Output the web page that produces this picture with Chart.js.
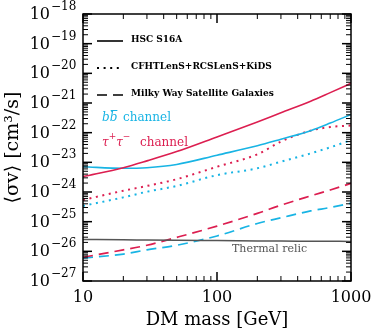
<!DOCTYPE html>
<html>
<head>
<meta charset="utf-8">
<script src="https://cdn.jsdelivr.net/npm/chart.js@4"></script>
<style>
  html, body { margin: 0; padding: 0; background: #fff; }
  canvas { display: block; }
</style>
</head>
<body>
<canvas id="grafico-sigmav" width="374" height="333"></canvas>
<script>
// Masas de materia oscura (GeV)
const masas = [10, 20, 30, 50, 100, 200, 300, 500, 700, 1000];

// HSC S16A (linea continua)
const tauHSC = [3.3e-24, 6.6e-24, 1.12e-23, 2.3e-23, 7.2e-23, 2.3e-22, 4.7e-22, 1.15e-21, 2.24e-21, 4.6e-21];
const bbHSC = [7.1e-24, 6.3e-24, 6.6e-24, 8.5e-24, 1.74e-23, 3.6e-23, 6.0e-23, 1.17e-22, 2.1e-22, 4.1e-22];

// CFHTLenS+RCSLenS+KiDS (punteada)
const tauCFHT = [5.4e-25, 1.1e-24, 1.6e-24, 2.7e-24, 7.1e-24, 1.86e-23, 5.0e-23, 1.17e-22, 1.55e-22, 1.74e-22];
const bbCFHT = [3.4e-25, 6.6e-25, 1.02e-24, 1.6e-24, 3.7e-24, 6.3e-24, 1.05e-23, 2.0e-23, 3.2e-23, 5.6e-23];

// Milky Way Satellite Galaxies (rayada)
const tauMW = [6.3e-27, 1.12e-26, 1.6e-26, 2.95e-26, 7.1e-26, 1.9e-25, 3.6e-25, 7.4e-25, 1.17e-24, 1.95e-24];
const bbMW = [5.9e-27, 8.1e-27, 1.12e-26, 1.6e-26, 3.3e-26, 8.7e-26, 1.35e-25, 2.3e-25, 3.0e-25, 4.2e-25];

// Reliquia termica
const termica = [2.5e-26, 2.45e-26, 2.4e-26, 2.35e-26, 2.3e-26, 2.25e-26, 2.22e-26, 2.2e-26, 2.18e-26, 2.16e-26];

// Etiquetas de los ejes
const exponentesY = [-27, -26, -25, -24, -23, -22, -21, -20, -19, -18];
const etiquetasX = [10, 100, 1000];
const leyenda = ['HSC S16A', 'CFHTLenS+RCSLenS+KiDS', 'Milky Way Satellite Galaxies'];

const ROJO = '#dc1e50';
const CIAN = '#18b4e4';
const SERIF = '"DejaVu Serif", serif';

function serie(datos, color, guion, ancho) {
  return {
    data: masas.map((m, i) => ({ x: m, y: datos[i] })),
    borderColor: color,
    borderDash: guion,
    borderWidth: ancho,
    borderCapStyle: 'butt',
    pointRadius: 0,
    fill: false,
    cubicInterpolationMode: 'monotone'
  };
}

function linea(ctx, x1, y1, x2, y2) {
  ctx.beginPath();
  ctx.moveTo(x1, y1);
  ctx.lineTo(x2, y2);
  ctx.stroke();
}

// Marco, marcas, etiquetas y textos sobre el grafico
const decorado = {
  id: 'decorado',
  afterDraw(chart) {
    const { ctx, chartArea: a, scales: { x, y } } = chart;
    ctx.save();
    ctx.strokeStyle = '#000';

    // Marcas eje Y (izquierda y derecha)
    for (let e = -27; e <= -18; e++) {
      for (let k = 1; k <= 9; k++) {
        if (e === -18 && k > 1) break;
        const py = y.getPixelForValue(k * Math.pow(10, e));
        const largo = k === 1 ? 9 : 5;
        ctx.lineWidth = k === 1 ? 1.5 : 1;
        linea(ctx, a.left, py, a.left + largo, py);
        linea(ctx, a.right - largo, py, a.right, py);
      }
    }
    // Marcas eje X (abajo y arriba)
    for (let e = 1; e <= 3; e++) {
      for (let k = 1; k <= 9; k++) {
        if (e === 3 && k > 1) break;
        const px = x.getPixelForValue(k * Math.pow(10, e));
        const largo = k === 1 ? 9 : 5;
        ctx.lineWidth = k === 1 ? 1.5 : 1;
        linea(ctx, px, a.bottom, px, a.bottom - largo);
        linea(ctx, px, a.top, px, a.top + largo);
      }
    }
    ctx.lineWidth = 1.5;
    ctx.strokeRect(a.left, a.top, a.right - a.left, a.bottom - a.top);

    // Etiquetas eje Y: 10^n
    ctx.fillStyle = '#000';
    ctx.textBaseline = 'middle';
    exponentesY.forEach(e => {
      const py = y.getPixelForValue(Math.pow(10, e));
      ctx.font = '16px ' + SERIF;
      ctx.textAlign = 'right';
      ctx.fillText('10', 50, py + 1);
      ctx.font = '12px ' + SERIF;
      ctx.textAlign = 'left';
      ctx.fillText('\u2212' + Math.abs(e), 51, py - 7);
    });
    // Etiquetas eje X
    ctx.font = '16px ' + SERIF;
    ctx.textAlign = 'center';
    etiquetasX.forEach(v => {
      ctx.fillText(String(v), x.getPixelForValue(v), 298);
    });

    // Leyenda (estilos de linea)
    ctx.textAlign = 'left';
    ctx.textBaseline = 'alphabetic';
    ctx.font = 'bold 9px ' + SERIF;
    const guiones = [[], [2, 4.6], [10, 6]];
    const filas = [41, 68, 95];
    leyenda.forEach((txt, i) => {
      ctx.setLineDash(guiones[i]);
      ctx.lineWidth = i === 1 ? 2 : 1.6;
      linea(ctx, 97, filas[i], 123, filas[i]);
      ctx.setLineDash([]);
      ctx.fillText(txt, 131, filas[i] + 1);
    });

    // Canal bb
    ctx.fillStyle = CIAN;
    ctx.strokeStyle = CIAN;
    ctx.font = 'italic 12px ' + SERIF;
    let px = 102;
    ctx.fillText('b', px, 121);
    px += ctx.measureText('b').width;
    ctx.fillText('b', px, 121);
    const wb = ctx.measureText('b').width;
    ctx.lineWidth = 1;
    linea(ctx, px + 1, 110.5, px + wb, 110.5);
    ctx.font = '12px ' + SERIF;
    ctx.fillText('channel', 123, 121);

    // Canal tau tau
    ctx.fillStyle = ROJO;
    ctx.font = 'italic 12px ' + SERIF;
    px = 102;
    ctx.fillText('\u03c4', px, 146);
    px += ctx.measureText('\u03c4').width;
    ctx.font = '9px ' + SERIF;
    ctx.fillText('+', px, 139);
    px += ctx.measureText('+').width;
    ctx.font = 'italic 12px ' + SERIF;
    ctx.fillText('\u03c4', px, 146);
    px += ctx.measureText('\u03c4').width;
    ctx.font = '9px ' + SERIF;
    ctx.fillText('\u2212', px, 139);
    ctx.font = '12px ' + SERIF;
    ctx.fillText('channel', 140, 146);

    // Reliquia termica
    ctx.fillStyle = '#555';
    ctx.font = '11px ' + SERIF;
    ctx.fillText('Thermal relic', 232, 252);
    ctx.restore();
  }
};

new Chart(document.getElementById('grafico-sigmav'), {
  type: 'line',
  data: {
    datasets: [
      serie(termica, '#555', [], 1.5),
      serie(tauHSC, ROJO, [], 1.6),
      serie(bbHSC, CIAN, [], 1.6),
      serie(tauCFHT, ROJO, [2, 4.6], 2),
      serie(bbCFHT, CIAN, [2, 4.6], 2),
      serie(tauMW, ROJO, [10, 6], 1.7),
      serie(bbMW, CIAN, [10, 6], 1.7)
    ]
  },
  options: {
    responsive: false,
    animation: false,
    devicePixelRatio: 1,
    layout: { padding: { top: 14, right: 23, left: 0, bottom: 0 } },
    plugins: {
      legend: { display: false },
      tooltip: { enabled: false }
    },
    scales: {
      x: {
        type: 'logarithmic',
        min: 10,
        max: 1000,
        grid: { display: false },
        border: { display: false },
        ticks: { display: false },
        title: {
          display: true,
          text: 'DM mass [GeV]',
          color: '#000',
          font: { family: SERIF, size: 18 },
          padding: { top: 0, bottom: 2 }
        },
        afterFit(escala) { escala.height = 52; }
      },
      y: {
        type: 'logarithmic',
        min: 1e-27,
        max: 1e-18,
        grid: { display: false },
        border: { display: false },
        ticks: { display: false },
        title: {
          display: true,
          text: '\u27e8\u03c3v\u27e9 [cm\u00b3/s]',
          color: '#000',
          font: { family: SERIF, size: 19 },
          padding: { top: 2, bottom: 0 }
        },
        afterFit(escala) { escala.width = 83; }
      }
    }
  },
  plugins: [decorado]
});
</script>
</body>
</html>
